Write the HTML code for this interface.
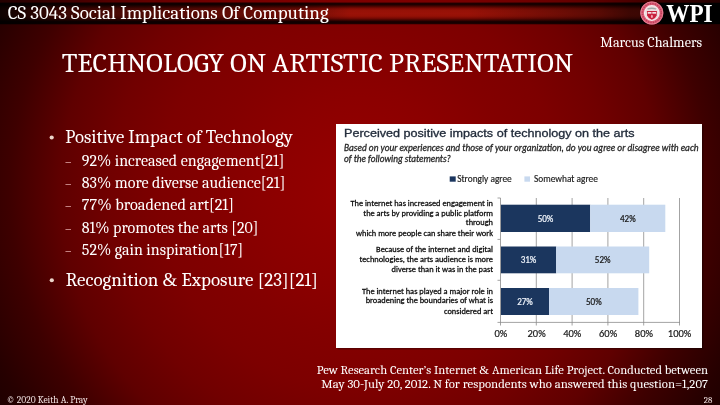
<!DOCTYPE html>
<html><head><meta charset="utf-8"><title>Technology on Artistic Presentation</title>
<style>
html,body{margin:0;padding:0;background:#600000;}
body{width:720px;height:405px;overflow:hidden;}
svg{display:block;}
.serif{font-family:"Caladea","Liberation Serif",serif;}
.sans{font-family:"Carlito","Liberation Sans",sans-serif;}
.arial{font-family:"Liberation Sans",Arial,sans-serif;}
</style></head>
<body>
<svg width="720" height="405" viewBox="0 0 720 405">
<defs>
  <radialGradient id="bg" gradientUnits="userSpaceOnUse" cx="360" cy="190" r="450">
    <stop offset="0.0000" stop-color="#980000"/>
    <stop offset="0.1111" stop-color="#910000"/>
    <stop offset="0.2222" stop-color="#8b0000"/>
    <stop offset="0.3333" stop-color="#830000"/>
    <stop offset="0.4444" stop-color="#7d0000"/>
    <stop offset="0.5556" stop-color="#710000"/>
    <stop offset="0.6667" stop-color="#5f0000"/>
    <stop offset="0.7778" stop-color="#3e0000"/>
    <stop offset="0.8889" stop-color="#260000"/>
    <stop offset="1.0000" stop-color="#150000"/>
  </radialGradient>
  <linearGradient id="tube" x1="0" y1="0" x2="0" y2="1">
    <stop offset="0" stop-color="#300000"/>
    <stop offset="0.06" stop-color="#180000"/>
    <stop offset="0.1" stop-color="#200000"/>
    <stop offset="0.2" stop-color="#580600"/>
    <stop offset="0.27" stop-color="#800a04"/>
    <stop offset="0.35" stop-color="#951106"/>
    <stop offset="0.5" stop-color="#9a1208"/>
    <stop offset="0.62" stop-color="#951106"/>
    <stop offset="0.72" stop-color="#780a04"/>
    <stop offset="0.8" stop-color="#480400"/>
    <stop offset="0.87" stop-color="#1c0000"/>
    <stop offset="0.94" stop-color="#140000"/>
    <stop offset="1" stop-color="#300000"/>
  </linearGradient>
  <linearGradient id="tubeshade" gradientUnits="userSpaceOnUse" x1="0" y1="0" x2="720" y2="0">
    <stop offset="0" stop-color="#000" stop-opacity="0.9"/>
    <stop offset="0.083" stop-color="#000" stop-opacity="0.62"/>
    <stop offset="0.139" stop-color="#000" stop-opacity="0.55"/>
    <stop offset="0.264" stop-color="#000" stop-opacity="0.42"/>
    <stop offset="0.389" stop-color="#000" stop-opacity="0.3"/>
    <stop offset="0.417" stop-color="#000" stop-opacity="0.27"/>
    <stop offset="0.458" stop-color="#000" stop-opacity="0.12"/>
    <stop offset="0.486" stop-color="#000" stop-opacity="0"/>
    <stop offset="0.65" stop-color="#000" stop-opacity="0"/>
    <stop offset="0.778" stop-color="#000" stop-opacity="0.28"/>
    <stop offset="0.833" stop-color="#000" stop-opacity="0.42"/>
    <stop offset="0.875" stop-color="#000" stop-opacity="0.6"/>
    <stop offset="1" stop-color="#000" stop-opacity="0.7"/>
  </linearGradient>
</defs>

<!-- background -->
<rect x="0" y="0" width="720" height="405" fill="url(#bg)"/>

<!-- top bar -->
<rect x="0" y="2.5" width="720" height="21.8" fill="url(#tube)"/>
<rect x="0" y="2.5" width="720" height="21.8" fill="url(#tubeshade)"/>
<rect x="640" y="3" width="80" height="21" fill="#000"/>
<text class="serif" x="7.8" y="18.5" font-size="19" fill="#fff" textLength="320.8" lengthAdjust="spacingAndGlyphs">CS 3043 Social Implications Of Computing</text>

<!-- WPI logo -->
<g>
  <circle cx="651.8" cy="13" r="11.5" fill="#dc6078"/>
  <circle cx="651.8" cy="13" r="11.1" fill="none" stroke="#e88a9c" stroke-width="0.7"/>
  <circle cx="651.8" cy="13" r="9.5" fill="none" stroke="#a82040" stroke-width="1.5" stroke-dasharray="1.3 1.2" opacity="0.55"/>
  <circle cx="651.8" cy="13" r="7.9" fill="#f8eef0"/>
  <circle cx="651.8" cy="13" r="7" fill="#eedcde"/>
  <path d="M647.2 8.4 Q651.8 6.8 656.4 8.4 L655.8 9.6 Q651.8 8.5 647.8 9.6 Z" fill="#9eaaa8"/>
  <path d="M646.9 10.9 L656.9 10.9 L656.7 15.5 Q655.5 18.8 651.9 19.7 Q648.3 18.8 647.1 15.5 Z" fill="#c8203c"/>
  <rect x="647.7" y="12" width="3.8" height="1.7" fill="#f4e0e4"/>
  <rect x="652.3" y="12" width="3.8" height="1.7" fill="#f4e0e4"/>
  <ellipse cx="651.9" cy="16.4" rx="1" ry="1.7" fill="#f0a4b2"/>
</g>
<text x="666.2" y="21.8" font-family="'Liberation Serif',serif" font-weight="bold" font-size="25.4" fill="#fff" textLength="46.4" lengthAdjust="spacingAndGlyphs">WPI</text>

<!-- author -->
<text class="serif" x="600.3" y="46.5" font-size="14.2" fill="#fff" textLength="101.80" lengthAdjust="spacingAndGlyphs">Marcus Chalmers</text>

<!-- title -->
<text class="serif" x="61.8" y="72" font-size="28" fill="#fff" textLength="511.4" lengthAdjust="spacingAndGlyphs">TECHNOLOGY ON ARTISTIC PRESENTATION</text>

<!-- bullets -->
<circle cx="51.7" cy="137.5" r="2.1" fill="#ecd6ca"/>
<text class="serif" x="65.3" y="143" font-size="18.8" fill="#fff" textLength="227.52" lengthAdjust="spacingAndGlyphs">Positive Impact of Technology</text>
<g class="serif" font-size="16" fill="#fff">
  <text x="64.9" y="166" font-size="12.8" fill="#ebb4b4" textLength="6.5" lengthAdjust="spacingAndGlyphs">–</text><text x="81.8" y="166" textLength="202.58" lengthAdjust="spacingAndGlyphs">92% increased engagement[21]</text>
  <text x="64.9" y="188.2" font-size="12.8" fill="#ebb4b4" textLength="6.5" lengthAdjust="spacingAndGlyphs">–</text><text x="81.8" y="188.2" textLength="203.47" lengthAdjust="spacingAndGlyphs">83% more diverse audience[21]</text>
  <text x="64.9" y="210.4" font-size="12.8" fill="#ebb4b4" textLength="6.5" lengthAdjust="spacingAndGlyphs">–</text><text x="81.8" y="210.4" textLength="152.2" lengthAdjust="spacingAndGlyphs">77% broadened art[21]</text>
  <text x="64.9" y="232.6" font-size="12.8" fill="#ebb4b4" textLength="6.5" lengthAdjust="spacingAndGlyphs">–</text><text x="81.8" y="232.6" textLength="176.52" lengthAdjust="spacingAndGlyphs">81% promotes the arts [20]</text>
  <text x="64.9" y="254.8" font-size="12.8" fill="#ebb4b4" textLength="6.5" lengthAdjust="spacingAndGlyphs">–</text><text x="81.8" y="254.8" textLength="161.25" lengthAdjust="spacingAndGlyphs">52% gain inspiration[17]</text>
</g>
<circle cx="51.8" cy="280.25" r="2.1" fill="#ecd6ca"/>
<text class="serif" x="65.8" y="285.6" font-size="18.8" fill="#fff" textLength="252.1" lengthAdjust="spacingAndGlyphs">Recognition <tspan font-family="'Liberation Serif',serif">&amp;</tspan> Exposure [23][21]</text>

<!-- chart -->
<rect x="337.5" y="125.5" width="366" height="224" fill="#000" opacity="0.3"/>
<rect x="336" y="124" width="366" height="224" fill="#fff"/>
<text class="arial" x="344" y="137.3" font-size="11.6" fill="#222c3b" stroke="#222c3b" stroke-width="0.32" textLength="290.6" lengthAdjust="spacingAndGlyphs">Perceived positive impacts of technology on the arts</text>
<g class="sans" font-style="italic" font-size="9.25" fill="#262626" stroke="#262626" stroke-width="0.28">
  <text x="344" y="150.7" textLength="354.6" lengthAdjust="spacingAndGlyphs">Based on your experiences and those of your organization, do you agree or disagree with each</text>
  <text x="344" y="161.5" textLength="106.80" lengthAdjust="spacingAndGlyphs">of the following statements?</text>
</g>
<rect x="449.7" y="176.4" width="6" height="5.3" fill="#1b365e"/>
<rect x="524.4" y="176.4" width="5.6" height="5.3" fill="#c8d9ef"/>
<g class="sans" font-size="9.35" fill="#1a1a1a" stroke="#1a1a1a" stroke-width="0.15">
  <text x="457.2" y="181.7" textLength="54.56" lengthAdjust="spacingAndGlyphs">Strongly agree</text>
  <text x="534" y="181.7" textLength="63.83" lengthAdjust="spacingAndGlyphs">Somewhat agree</text>
</g>

<!-- gridlines -->
<g stroke="#8c8c8c" stroke-width="0.8">
  <line x1="536.3" y1="198" x2="536.3" y2="325.5"/>
  <line x1="572.1" y1="198" x2="572.1" y2="325.5"/>
  <line x1="607.9" y1="198" x2="607.9" y2="325.5"/>
  <line x1="643.7" y1="198" x2="643.7" y2="325.5"/>
  <line x1="679.5" y1="198" x2="679.5" y2="325.5"/>
</g>
<!-- bars -->
<rect x="500.8" y="204.7" width="89.4" height="27.3" fill="#1b365e"/>
<rect x="590.2" y="204.7" width="75.1" height="27.3" fill="#c8d9ef"/>
<rect x="500.8" y="246.5" width="55.4" height="26.8" fill="#1b365e"/>
<rect x="556.2" y="246.5" width="93" height="26.8" fill="#c8d9ef"/>
<rect x="500.8" y="288" width="48.3" height="27" fill="#1b365e"/>
<rect x="549.1" y="288" width="89.3" height="27" fill="#c8d9ef"/>
<!-- axes -->
<g stroke="#8c8c8c" stroke-width="0.8">
  <line x1="500.5" y1="198" x2="500.5" y2="325.5"/>
  <line x1="497.5" y1="322.4" x2="680" y2="322.4"/>
  <line x1="497.5" y1="198" x2="500.5" y2="198"/>
  <line x1="497.5" y1="239.4" x2="500.5" y2="239.4"/>
  <line x1="497.5" y1="280.3" x2="500.5" y2="280.3"/>
</g>
<!-- data labels -->
<g class="sans" font-size="9.1" text-anchor="middle" stroke-width="0.22">
  <text x="545.5" y="221.7" fill="#eef3fa" stroke="#eef3fa" textLength="15.72" lengthAdjust="spacingAndGlyphs">50%</text>
  <text x="627.8" y="221.7" fill="#1a1a1a" stroke="#1a1a1a" textLength="15.72" lengthAdjust="spacingAndGlyphs">42%</text>
  <text x="528.5" y="263.2" fill="#eef3fa" stroke="#eef3fa" textLength="15.72" lengthAdjust="spacingAndGlyphs">31%</text>
  <text x="602.7" y="263.2" fill="#1a1a1a" stroke="#1a1a1a" textLength="15.72" lengthAdjust="spacingAndGlyphs">52%</text>
  <text x="525" y="304.8" fill="#eef3fa" stroke="#eef3fa" textLength="15.72" lengthAdjust="spacingAndGlyphs">27%</text>
  <text x="593.8" y="304.8" fill="#1a1a1a" stroke="#1a1a1a" textLength="15.72" lengthAdjust="spacingAndGlyphs">50%</text>
</g>
<!-- category labels -->
<g class="sans" font-size="8.4" text-anchor="end" fill="#0a0a0a" stroke="#0a0a0a" stroke-width="0.26">
  <text x="493" y="205.7" textLength="142.59" lengthAdjust="spacingAndGlyphs">The internet has increased engagement in</text>
  <text x="493" y="215.6" textLength="129.67" lengthAdjust="spacingAndGlyphs">the arts by providing a public platform</text>
  <text x="493" y="225.4" textLength="27.16" lengthAdjust="spacingAndGlyphs">through</text>
  <text x="493" y="235.6" textLength="136.98" lengthAdjust="spacingAndGlyphs">which more people can share their work</text>
  <text x="493" y="251.8" textLength="116.88" lengthAdjust="spacingAndGlyphs">Because of the internet and digital</text>
  <text x="493" y="262" textLength="133.53" lengthAdjust="spacingAndGlyphs">technologies, the arts audience is more</text>
  <text x="493" y="272.3" textLength="101.39" lengthAdjust="spacingAndGlyphs">diverse than it was in the past</text>
  <text x="493" y="293.6" textLength="131.08" lengthAdjust="spacingAndGlyphs">The internet has played a major role in</text>
  <text x="493" y="303.4" textLength="127.30" lengthAdjust="spacingAndGlyphs">broadening the boundaries of what is</text>
  <text x="493" y="314" textLength="49.06" lengthAdjust="spacingAndGlyphs">considered art</text>
</g>
<!-- axis labels -->
<g class="sans" font-size="10.5" text-anchor="middle" fill="#1a1a1a" stroke="#1a1a1a" stroke-width="0.2">
  <text x="500.8" y="336.6" textLength="12.83" lengthAdjust="spacingAndGlyphs">0%</text>
  <text x="536.6" y="336.6" textLength="18.16" lengthAdjust="spacingAndGlyphs">20%</text>
  <text x="572.3" y="336.6" textLength="18.16" lengthAdjust="spacingAndGlyphs">40%</text>
  <text x="608.1" y="336.6" textLength="18.16" lengthAdjust="spacingAndGlyphs">60%</text>
  <text x="643.9" y="336.6" textLength="18.16" lengthAdjust="spacingAndGlyphs">80%</text>
  <text x="679.6" y="336.6" textLength="23.48" lengthAdjust="spacingAndGlyphs">100%</text>
</g>

<!-- source caption -->
<g class="serif" font-size="12.6" fill="#fff" text-anchor="end">
  <text x="708" y="374.1" textLength="391.27" lengthAdjust="spacingAndGlyphs">Pew Research Center’s Internet <tspan font-family="'Liberation Serif',serif">&amp;</tspan> American Life Project. Conducted between</text>
  <text x="708" y="387.8" textLength="386.7" lengthAdjust="spacingAndGlyphs">May 30-July 20, 2012. N for respondents who answered this question=1,207</text>
</g>

<!-- footer -->
<text class="serif" x="6.6" y="403" font-size="9.5" fill="#f0e0e0" textLength="81.08" lengthAdjust="spacingAndGlyphs">© 2020 Keith A. Pray</text>
<text class="serif" x="712.4" y="403" font-size="9" fill="#f0e0e0" text-anchor="end" textLength="8.62" lengthAdjust="spacingAndGlyphs">28</text>
</svg>
</body></html>
